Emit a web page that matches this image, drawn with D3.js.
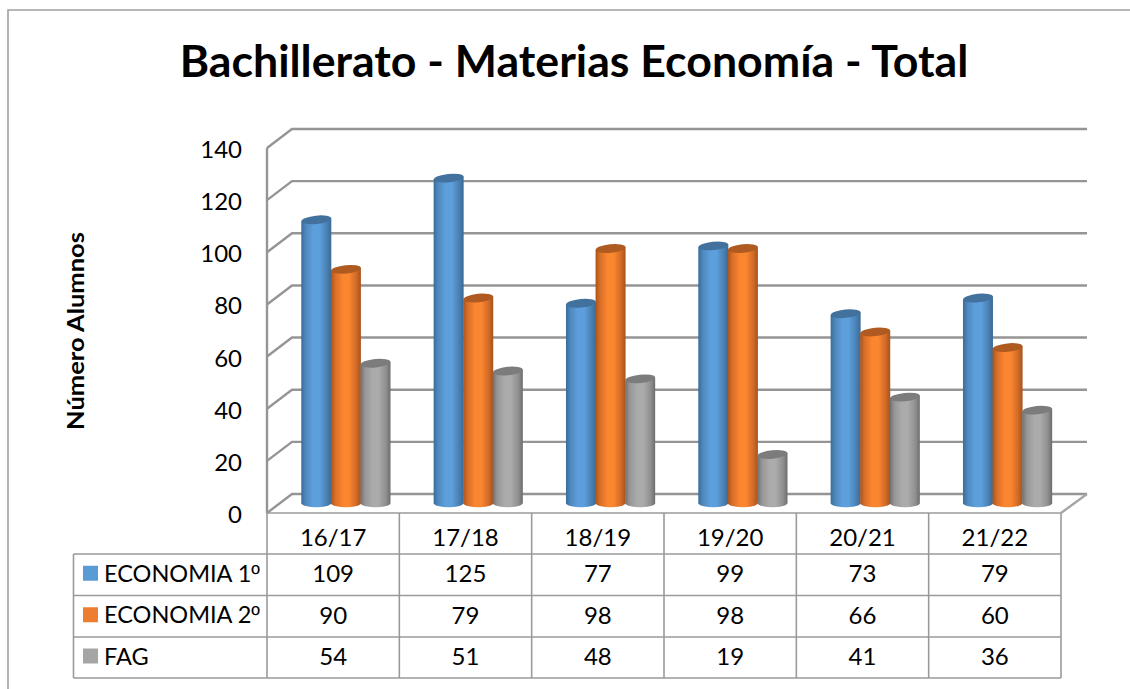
<!DOCTYPE html>
<html><head><meta charset="utf-8">
<script src="https://cdnjs.cloudflare.com/ajax/libs/d3/7.8.5/d3.min.js"></script>
<style>html,body{margin:0;padding:0;background:#fff;overflow:hidden}svg{display:block}text{font-family:Lato,"Open Sans",sans-serif;fill:#000}</style>
</head><body>
<svg id="c" width="1130" height="689"></svg>
<script>
const categories=["16/17","17/18","18/19","19/20","20/21","21/22"];
const seriesNames=["ECONOMIA 1º","ECONOMIA 2º","FAG"];
const economia1=[109,125,77,99,73,79];
const economia2=[90,79,98,98,66,60];
const fag=[54,51,48,19,41,36];
const yTicks=[0,20,40,60,80,100,120,140];
const titleText="Bachillerato - Materias Economía - Total";
const yTitle="Número Alumnos";

const allSeries=[economia1,economia2,fag];
const gradStops=[
 ["#3a6c99","#4f88bd","#5d9fdd","#5d9fdd","#4a80b2","#3a6a96"],
 ["#a9541c","#d96f28","#fb8630","#fb8630","#d06a26","#a5521c"],
 ["#707070","#969696","#ababab","#ababab","#8f8f8f","#6c6c6c"]];
const topCols=["#41719c","#ae5a21","#7c7c7c"];

const svg=d3.select("#c");
const defs=svg.append("defs");
gradStops.forEach((st,i)=>{
 const g=defs.append("linearGradient").attr("id","g"+i);
 st.forEach((c,j)=>g.append("stop").attr("offset",[0,.15,.4,.6,.85,1][j]).attr("stop-color",c));
});

const grey="#959595";
svg.append("path").attr("d","M8,689V10H1130").attr("fill","none").attr("stroke","#a0a0a0").attr("stroke-width",1.6);

svg.append("text").attr("x",574).attr("y",76.5).attr("text-anchor","middle").attr("font-size",44.7).attr("font-weight",700).text(titleText);
svg.append("text").attr("transform","translate(84,331) rotate(-90)").attr("text-anchor","middle").attr("font-size",23).attr("font-weight",700).attr("textLength",198).attr("lengthAdjust","spacingAndGlyphs").text(yTitle);

const depth={dx:25,dy:19};
const xCol=d3.scaleBand().domain(categories).range([267,1061]);
const yFront=d3.scaleLinear().domain([0,140]).range([513,148]);
const yBack=v=>yFront(v)-depth.dy;
const yBar=d3.scaleLinear().domain([0,140]).range([505.5,140.5]);
const xRight=xCol.range()[1];

const walls=svg.append("g").attr("fill","none").attr("stroke",grey).attr("stroke-width",2.4);
walls.selectAll("path.g").data(yTicks).join("path").attr("class","g")
 .attr("d",v=>d3.line()([[xCol.range()[0],yFront(v)],[xCol.range()[0]+depth.dx,yBack(v)],[xRight+depth.dx+1,yBack(v)]]));
walls.append("path").attr("d",d3.line()([[267,yFront(0)],[267,yFront(140)]]));
walls.append("path").attr("stroke","#a6a6a6").attr("d",d3.line()([[xRight+depth.dx+1,yBack(0)],[xRight,yFront(0)]]));

svg.append("g").selectAll("text").data(yTicks).join("text")
 .attr("x",242).attr("y",v=>yFront(v)+10).attr("text-anchor","end").attr("font-size",24).text(d=>d);

const bw=30,rx=15,ry=4.2,step=29.6,pad=34.3;
const barsG=svg.append("g");
categories.forEach((c,ci)=>{
 allSeries.forEach((vals,si)=>{
  const x0=xCol(c)+pad+si*step, v=vals[ci], top=yBar(v), base=yBar(0)-2;
  const g=barsG.append("g");
  const tilt=-3;
  g.append("path").attr("fill",`url(#g${si})`)
   .attr("d",`M${x0},${top} L${x0},${base} A${rx},${ry} 0 0 0 ${x0+bw},${base+tilt*0.3} L${x0+bw},${top+tilt} Z`);
  g.append("ellipse").attr("cx",x0+bw/2).attr("cy",top+tilt/2).attr("rx",rx).attr("ry",ry)
   .attr("transform",`rotate(${-5.7} ${x0+bw/2} ${top+tilt/2})`).attr("fill",topCols[si]);
 });
});

const rowY=[513,554,595.5,637,678];
const lx=73.5;
const tbl=svg.append("g").attr("stroke","#9a9a9a").attr("stroke-width",1.6);
rowY.forEach((y,i)=>tbl.append("line").attr("x1",i===0?267:lx).attr("x2",xRight).attr("y1",y).attr("y2",y));
tbl.append("line").attr("x1",lx).attr("x2",lx).attr("y1",rowY[1]).attr("y2",rowY[4]);
[...categories.map(c=>xCol(c)),xRight].forEach(x=>tbl.append("line").attr("x1",x).attr("x2",x).attr("y1",rowY[0]).attr("y2",rowY[4]));

const cx=c=>xCol(c)+xCol.bandwidth()/2;
svg.append("g").selectAll("text").data(categories).join("text")
 .attr("x",cx).attr("y",546).attr("text-anchor","middle").attr("font-size",24).text(d=>d);
const legendCols=["#5b9bd5","#ed7d31","#a5a5a5"];
allSeries.forEach((vals,si)=>{
 const y=(rowY[si+1]+rowY[si+2])/2+7.5;
 svg.append("rect").attr("x",83).attr("y",y-16.5).attr("width",15).attr("height",15).attr("fill",legendCols[si]);
 const name=seriesNames[si];
 const t=svg.append("text").attr("x",104).attr("y",y-0.5).attr("font-size",23.5);
 if(name.endsWith("º")){
  t.append("tspan").text(name.slice(0,-1));
  t.append("tspan").attr("font-family","Liberation Sans").text("º");
 } else t.text(name);
 svg.append("g").selectAll("text").data(vals).join("text")
  .attr("x",(d,i)=>cx(categories[i])).attr("y",y).attr("text-anchor","middle").attr("font-size",24).text(d=>d);
});
</script>
</body></html>
